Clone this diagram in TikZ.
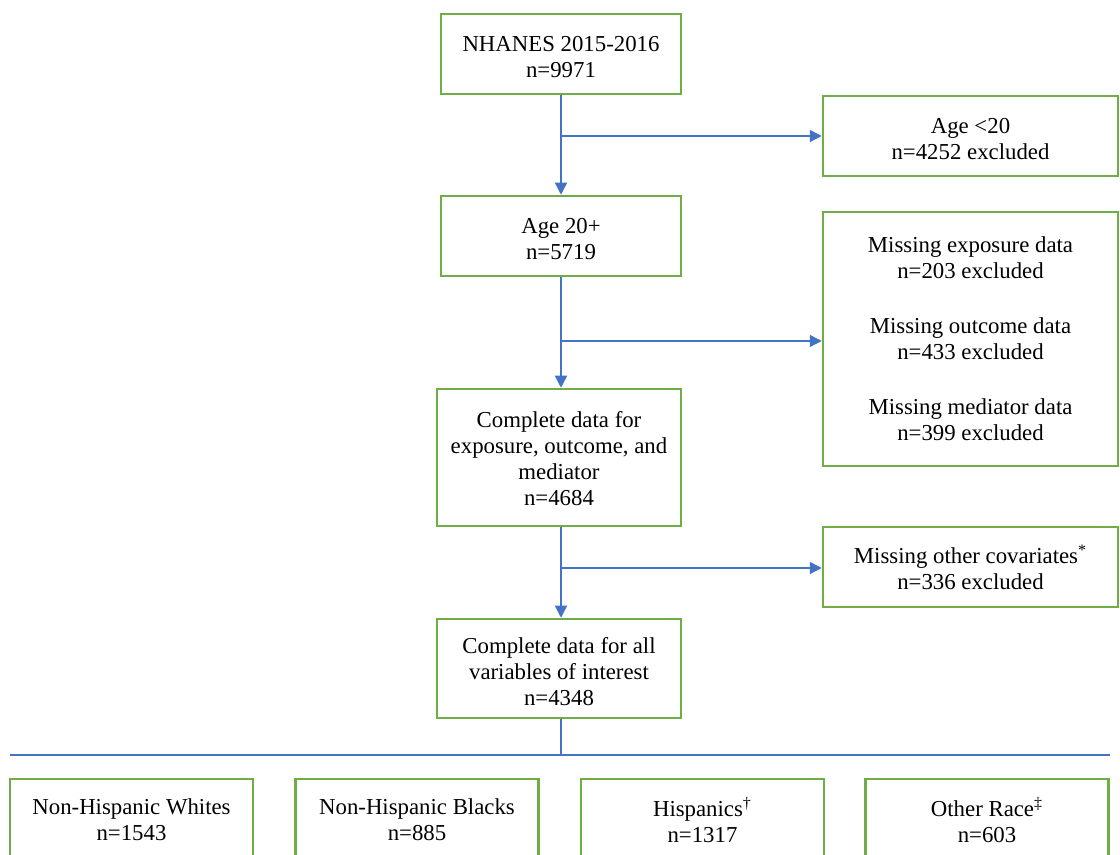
\documentclass[tikz,border=0pt]{standalone}
\usepackage{fontspec}
\setmainfont{Liberation Serif}
\usetikzlibrary{arrows.meta}
\definecolor{boxgreen}{RGB}{112,173,71}
\definecolor{flowblue}{RGB}{68,114,196}

\def\colX{561}
\def\sideX{970.5}
\newcommand{\tstrut}{\rule{0pt}{10.7pt}}

\begin{document}
\begin{tikzpicture}[x=0.5pt, y=-0.5pt,
    box/.style={draw=boxgreen, line width=1.25pt, align=center, inner sep=0pt,
      font=\fontsize{11.4}{13}\selectfont},
    mainbox/.style={box, minimum width=120pt},
    sidebox/.style={box, minimum width=147.5pt},
    racebox/.style={box, minimum width=121.5pt, minimum height=41pt},
    link/.style={draw=flowblue, line width=0.7pt},
    flow/.style={link, -{Triangle[length=6pt,width=6pt]}}]
  \useasboundingbox (0,0) rectangle (1120,855);
  \clip (0,0) rectangle (1120,855);

  % main column
  \node[mainbox, minimum height=40pt] (nhanes) at (\colX,54) {\tstrut NHANES 2015-2016\\n=9971};
  \node[mainbox, minimum height=40pt] (adult) at (\colX,236) {\tstrut Age 20+\\n=5719};
  \node[mainbox, minimum width=122pt, minimum height=68.5pt] (complete) at (559,457.5)
    {\rule{0pt}{9.5pt}Complete data for\\exposure, outcome, and\\mediator\\n=4684};
  \node[mainbox, minimum width=122pt, minimum height=49.5pt] (final) at (559,668.5)
    {\tstrut Complete data for all\\variables of interest\\n=4348};

  % exclusions
  \node[sidebox, minimum height=40pt] (young) at (\sideX,136) {\tstrut Age <20\\n=4252 excluded};
  \node[sidebox, minimum height=127pt] (missing) at (\sideX,339)
    {Missing exposure data\\n=203 excluded\\[14.5pt]%
     Missing outcome data\\n=433 excluded\\[14.5pt]%
     Missing mediator data\\n=399 excluded};
  \node[sidebox, minimum height=40pt] (covar) at (\sideX,567)
    {Missing other covariates\textsuperscript{*}\\n=336 excluded};

  % race groups
  \foreach \x/\name/\lab/\n in {131.5/white/Non-Hispanic Whites/1543, 417/black/Non-Hispanic Blacks/885,
      702.5/hisp/{Hispanics\textsuperscript{\dag}}/1317, 987/other/{Other Race\textsuperscript{\ddag}}/603} {
    \node[racebox] (\name) at (\x,820) {\lab\\n=\n};
  }

  % arrows
  \coordinate (b1) at (\colX,136);
  \coordinate (b2) at (\colX,341);
  \coordinate (b3) at (\colX,568);
  \draw[flow] (nhanes) -- (adult);
  \draw[flow] (b1) -- (young.west |- b1);
  \draw[flow] (adult) -- (adult.south |- complete.north);
  \draw[flow] (b2) -- (missing.west |- b2);
  \draw[flow] (adult.south |- complete.south) -- (adult.south |- final.north);
  \draw[flow] (b3) -- (covar.west |- b3);

  % split line
  \coordinate (hl) at (10,755);
  \coordinate (hr) at (1110,755);
  \draw[link] (adult.south |- final.south) -- (adult.south |- hl);
  \draw[link] (hl) -- (hr);
\end{tikzpicture}
\end{document}
